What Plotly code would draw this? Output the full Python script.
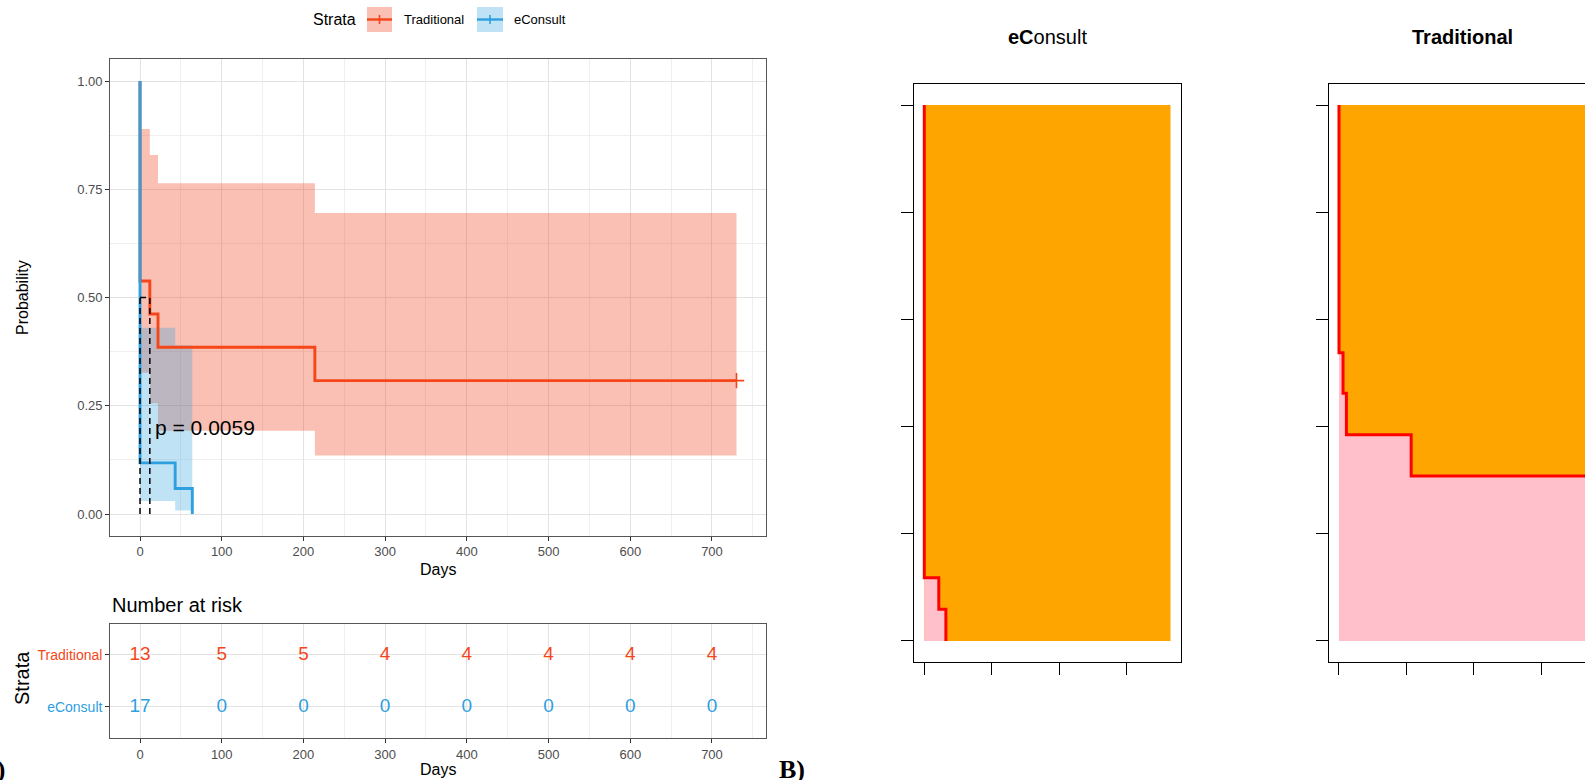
import plotly.graph_objects as go

W, H = 1585, 780

# ---------------- data ----------------
strata = ["Traditional", "eConsult"]
col_trad = "#F5461A"
col_econ = "#2E9FDF"
band_trad = "rgba(238,58,22,0.32)"
band_econ = "rgba(46,159,223,0.30)"

# Traditional KM estimate (step times in days)
trad_times = [0, 12, 22, 214]
trad_surv = [0.538, 0.462, 0.385, 0.308]
trad_lower = [0.326, 0.256, 0.192, 0.135]
trad_upper = [0.889, 0.829, 0.764, 0.695]
trad_end = 730
trad_censor_time = [730]
trad_censor_surv = [0.308]

# eConsult KM estimate
econ_times = [0, 43, 64]
econ_surv = [0.118, 0.059, 0.0]
econ_lower = [0.030, 0.008, 0.008]
econ_upper = [0.430, 0.390, 0.390]

median_days = [0, 12]
p_text = "p = 0.0059"
p_x, p_y = 16, 0.2

risk_days = [0, 100, 200, 300, 400, 500, 600, 700]
risk_trad = [13, 5, 5, 4, 4, 4, 4, 4]
risk_econ = [17, 0, 0, 0, 0, 0, 0, 0]

FONT = "Liberation Sans, Arial, Helvetica, sans-serif"


def px(x):
    return x / W


def py(y):
    return 1 - y / H


fig = go.Figure()

# ---------------- Panel A: KM curves ----------------
tb_x = trad_times + [trad_end]
fig.add_trace(go.Scatter(x=tb_x, y=trad_lower + [trad_lower[-1]], mode="lines",
                         line=dict(width=0, shape="hv"), xaxis="x", yaxis="y",
                         hoverinfo="skip"))
fig.add_trace(go.Scatter(x=tb_x, y=trad_upper + [trad_upper[-1]], mode="lines",
                         line=dict(width=0, shape="hv"), fill="tonexty",
                         fillcolor=band_trad, xaxis="x", yaxis="y",
                         hoverinfo="skip"))
fig.add_trace(go.Scatter(x=econ_times, y=econ_lower, mode="lines",
                         line=dict(width=0, shape="hv"), xaxis="x", yaxis="y",
                         hoverinfo="skip"))
fig.add_trace(go.Scatter(x=econ_times, y=econ_upper, mode="lines",
                         line=dict(width=0, shape="hv"), fill="tonexty",
                         fillcolor=band_econ, xaxis="x", yaxis="y",
                         hoverinfo="skip"))
fig.add_trace(go.Scatter(x=[0] + trad_times + [trad_end], y=[1] + trad_surv + [trad_surv[-1]],
                         mode="lines", line=dict(color=col_trad, width=2.9, shape="hv"),
                         xaxis="x", yaxis="y"))
fig.add_trace(go.Scatter(x=[0] + econ_times, y=[1] + econ_surv,
                         mode="lines", line=dict(color=col_econ, width=2.9, shape="hv"),
                         xaxis="x", yaxis="y"))
fig.add_trace(go.Scatter(x=trad_censor_time, y=trad_censor_surv, mode="markers",
                         marker=dict(symbol="cross-thin", size=11,
                                     line=dict(color=col_trad, width=1.6)),
                         xaxis="x", yaxis="y"))
mx, my = [], []
for d in median_days:
    mx += [d, d, None]
    my += [0, 0.5, None]
mx += [min(median_days), max(median_days)]
my += [0.5, 0.5]
fig.add_trace(go.Scatter(x=mx, y=my, mode="lines",
                         line=dict(color="black", width=1.5, dash="6px,4px"),
                         xaxis="x", yaxis="y"))

# ---------------- risk table ----------------
fig.add_trace(go.Scatter(x=risk_days, y=[2] * len(risk_days), mode="text",
                         text=[str(v) for v in risk_trad],
                         textfont=dict(family=FONT, size=19, color=col_trad),
                         xaxis="x2", yaxis="y2"))
fig.add_trace(go.Scatter(x=risk_days, y=[1] * len(risk_days), mode="text",
                         text=[str(v) for v in risk_econ],
                         textfont=dict(family=FONT, size=19, color=col_econ),
                         xaxis="x2", yaxis="y2"))

# ---------------- Panel B: area plots ----------------
ORANGE, PINK, RED = "#FFA500", "#FFC0CB", "#FF0000"


def area_panel(times, surv, xa, ya, line_end):
    fig.add_trace(go.Scatter(x=[0, trad_end], y=[1, 1], mode="lines",
                             line=dict(width=0), fill="tozeroy", fillcolor=ORANGE,
                             xaxis=xa, yaxis=ya, hoverinfo="skip"))
    fx = [0] + times + [trad_end]
    fy = [1] + surv + [surv[-1]]
    fig.add_trace(go.Scatter(x=fx, y=fy, mode="lines",
                             line=dict(width=0, shape="hv"), fill="tozeroy",
                             fillcolor=PINK, xaxis=xa, yaxis=ya, hoverinfo="skip"))
    lx = [0] + times + ([trad_end] if line_end else [])
    ly = [1] + surv + ([surv[-1]] if line_end else [])
    fig.add_trace(go.Scatter(x=lx, y=ly, mode="lines",
                             line=dict(color=RED, width=3, shape="hv"),
                             xaxis=xa, yaxis=ya))


area_panel(econ_times, econ_surv, "x3", "y3", False)
area_panel(trad_times, trad_surv, "x4", "y4", True)

# ---------------- axes ----------------
grid_major = "#E3E3E3"
grid_minor = "#EFEFEF"
tickfont = dict(family=FONT, size=13, color="#4D4D4D")
x_dom = [px(110.2), px(766.3)]
common_x = dict(domain=x_dom, range=[-36.5, 766.5], tickmode="linear", tick0=0, dtick=100,
                showgrid=True, gridcolor=grid_major, gridwidth=1,
                minor=dict(tickmode="linear", tick0=50, dtick=100, showgrid=True,
                           gridcolor=grid_minor, gridwidth=0.8),
                showline=True, mirror=True, linecolor="#555555", linewidth=1,
                ticks="outside", ticklen=4, tickcolor="#333333", tickfont=tickfont,
                zeroline=False)

r_ticks = dict(ticks="outside", ticklen=12, tickcolor="black", tickwidth=1,
               showticklabels=False, showgrid=False, zeroline=False,
               showline=True, linecolor="black", linewidth=1)

fig.update_layout(
    width=W, height=H, margin=dict(l=0, r=0, t=0, b=0),
    paper_bgcolor="white", plot_bgcolor="white", showlegend=False,
    font=dict(family=FONT),
    xaxis=dict(anchor="y", **common_x),
    yaxis=dict(anchor="x", domain=[py(535.65), py(59.35)], range=[-0.05, 1.05],
               tickmode="linear", tick0=0, dtick=0.25, tickformat=".2f",
               showgrid=True, gridcolor=grid_major, gridwidth=1,
               minor=dict(tickmode="linear", tick0=0.125, dtick=0.25, showgrid=True,
                          gridcolor=grid_minor, gridwidth=0.8),
               showline=True, mirror=True, linecolor="#555555", linewidth=1,
               ticks="outside", ticklen=4, tickcolor="#333333", tickfont=tickfont,
               zeroline=False),
    xaxis2=dict(anchor="y2", **common_x),
    yaxis2=dict(anchor="x2", domain=[py(738.1), py(623.7)], range=[0.4, 2.6],
                tickmode="array", tickvals=[1, 2],
                ticktext=["<span style='color:%s'>%s</span>" % (col_econ, strata[1]),
                          "<span style='color:%s'>%s</span>" % (col_trad, strata[0])],
                showgrid=True, gridcolor=grid_major, gridwidth=1,
                showline=True, mirror=True, linecolor="#555555", linewidth=1,
                ticks="outside", ticklen=4, tickcolor="#333333",
                tickfont=dict(family=FONT, size=14), zeroline=False),
    xaxis3=dict(anchor="y3", domain=[px(914.3), px(1180.7)], range=[-29.6, 760.2],
                tickvals=[0, 200, 400, 600], mirror=True, **r_ticks),
    yaxis3=dict(anchor="x3", domain=[py(662.4), py(83.6)], range=[-0.04, 1.04],
                tickvals=[0, 0.2, 0.4, 0.6, 0.8, 1.0], mirror=True, **r_ticks),
    xaxis4=dict(anchor="y4", domain=[px(1329), 1.0], range=[-29.6, (1585 - 1339) / 0.33735],
                tickvals=[0, 200, 400, 600], mirror=True, **r_ticks),
    yaxis4=dict(anchor="x4", domain=[py(662.4), py(83.6)], range=[-0.04, 1.04],
                tickvals=[0, 0.2, 0.4, 0.6, 0.8, 1.0], mirror=False, **r_ticks),
)


def note(x, y, text, size, xanchor="center", yanchor="middle", angle=0, family=FONT,
         color="black"):
    return dict(x=px(x), y=py(y), xref="paper", yref="paper", text=text, showarrow=False,
                xanchor=xanchor, yanchor=yanchor, textangle=angle,
                font=dict(family=family, size=size, color=color))


ann = []
ann.append(dict(x=p_x, y=p_y, xref="x", yref="y", text=p_text, showarrow=False,
                xanchor="left", yanchor="middle", font=dict(family=FONT, size=21, color="black")))
ann.append(note(438, 569, "Days", 16))
ann.append(note(22, 298, "Probability", 16, angle=-90))
ann.append(note(110, 605, "Number at risk", 20, xanchor="left"))
ann.append(note(438, 769, "Days", 16))
ann.append(note(22, 678, "Strata", 20, angle=-90))
# legend
ann.append(note(311, 19, "Strata", 16, xanchor="left"))
ann.append(note(402, 19, strata[0], 13, xanchor="left"))
ann.append(note(512, 19, strata[1], 13, xanchor="left"))
# panel B titles
ann.append(note(1047, 37, "<b>eC</b>onsult", 20))
ann.append(note(1462, 37, "<b>Traditional</b>", 20))
# panel letters
serif = "Liberation Serif, Times New Roman, serif"
ann.append(note(7, 753, "<b>A)</b>", 26, xanchor="right", yanchor="top", family=serif))
ann.append(note(777, 753, "<b>B)</b>", 26, xanchor="left", yanchor="top", family=serif))
fig.update_layout(annotations=ann)

# legend keys
shapes = []
for (x0, x1), c, bc in [((367, 392), col_trad, band_trad), ((477, 503), col_econ, band_econ)]:
    shapes.append(dict(type="rect", xref="paper", yref="paper", x0=px(x0), x1=px(x1),
                       y0=py(32), y1=py(7), fillcolor=bc, line=dict(width=0)))
    shapes.append(dict(type="line", xref="paper", yref="paper", x0=px(x0), x1=px(x1),
                       y0=py(19.5), y1=py(19.5), line=dict(color=c, width=2.4)))
    xc = (x0 + x1) / 2
    shapes.append(dict(type="line", xref="paper", yref="paper", x0=px(xc), x1=px(xc),
                       y0=py(15), y1=py(24), line=dict(color=c, width=1.6)))
fig.update_layout(shapes=shapes)

fig.write_html("out.html")
